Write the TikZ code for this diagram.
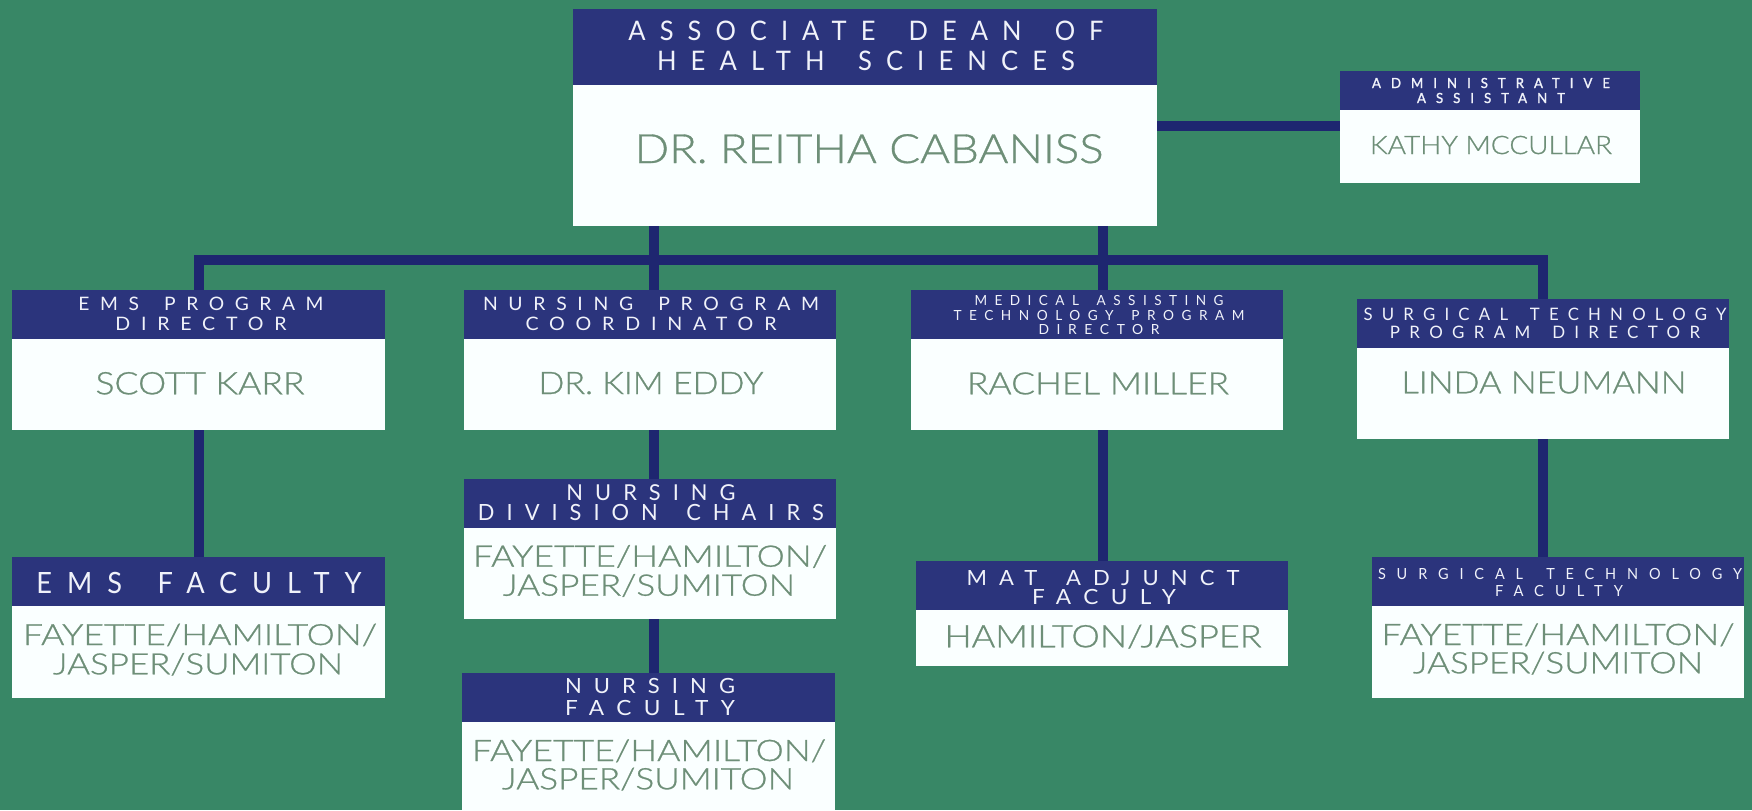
\documentclass[tikz,border=0pt]{standalone}
\usepackage{fontspec}
\usepackage{graphicx}
\setmainfont{Lato}
\newfontfamily\hdrfont[LetterSpace=55]{Lato}
\newfontfamily\hdrwide[LetterSpace=75]{Lato}
\newfontfamily\hdrbold[LetterSpace=75,FakeBold=1.5]{Lato}
\IfFontExistsTF{Lato Light}{\newfontfamily\namefont[FakeBold=0.8]{Lato Light}}{\newfontfamily\namefont{Lato}}
\definecolor{bg}{RGB}{56,135,102}
\definecolor{hdr}{RGB}{43,52,124}
\definecolor{lineblue}{RGB}{30,38,112}
\definecolor{bodyw}{RGB}{250,255,255}
\definecolor{namec}{RGB}{110,143,120}
\definecolor{hdrtext}{RGB}{240,242,250}
\newlength\pxu \setlength\pxu{0.5pt}
\newcommand\fitl[3]{\resizebox{#1\pxu}{#2\pxu}{\raisebox{0pt}[\fontcharht\font`H][0pt]{#3}}}
\newcommand\hdl[3]{{\hdrfont\spaceskip=1.3em\relax\fitl{#1}{#2}{#3}}}
\newcommand\hdw[3]{{\hdrwide\spaceskip=1.6em\relax\fitl{#1}{#2}{#3}}}
\newcommand\hdb[3]{{\hdrbold\spaceskip=1.6em\relax\fitl{#1}{#2}{#3}}}
\newcommand\nml[3]{{\namefont\fitl{#1}{#2}{#3}}}
\newcommand\orgbox[6]{%
  \node[hdrbox, anchor=north west, minimum width={(#3-#2)*0.5pt}, minimum height={(#5-#4)*0.5pt}] (#1H) at (#2,#4) {};
  \node[bodybox, anchor=north west, minimum width={(#3-#2)*0.5pt}, minimum height={(#6-#5)*0.5pt}] (#1) at (#2,#5) {};}
\tikzset{
  hdrbox/.style={rectangle, fill=hdr, draw=none, inner sep=0pt, outer sep=0pt},
  bodybox/.style={rectangle, fill=bodyw, draw=none, inner sep=0pt, outer sep=0pt},
  conn/.style={draw=lineblue, line width=5pt},
  htxt/.style={text=hdrtext, inner sep=0pt, anchor=base},
  ntxt/.style={text=namec, inner sep=0pt, anchor=base},
}
\begin{document}
\begin{tikzpicture}[x=0.5pt,y=-0.5pt]
\useasboundingbox (0,0) rectangle (1752,810);
\fill[bg] (0,0) rectangle (1752,810);
% boxes
\orgbox{dean}{573}{1157}{9}{85}{226}
\orgbox{admin}{1340}{1640}{71}{110}{183}
\orgbox{ems}{12}{385}{290}{339}{430}
\orgbox{nur}{464}{836}{290}{339}{430}
\orgbox{mat}{911}{1283}{290}{339}{430}
\orgbox{sur}{1357}{1729}{299}{348}{439}
\orgbox{emsf}{12}{385}{557}{606}{698}
\orgbox{ndc}{464}{836}{479}{528}{619}
\orgbox{nf}{462}{835}{673}{722}{810}
\orgbox{matf}{916}{1288}{561}{610}{666}
\orgbox{surf}{1372}{1744}{557}{606}{698}
% connectors
\coordinate (bus) at (0,260);
\coordinate (admy) at (0,126);
\draw[conn] (dean.east |- admy) -- (admin.west |- admy);
\draw[conn] (emsH.north) -- (emsH.north |- bus) -- (surH.north |- bus) -- (surH.north);
\draw[conn] (dean.south -| 654,0) -- (nurH.north -| 654,0);
\draw[conn] (dean.south -| 1103,0) -- (matH.north -| 1103,0);
\draw[conn] (ems.south) -- (emsfH.north);
\draw[conn] (nur.south -| 654,0) -- (ndcH.north -| 654,0);
\draw[conn] (ndc.south -| 654,0) -- (nfH.north -| 654,0);
\draw[conn] (mat.south -| 1103,0) -- (matfH.north -| 1103,0);
\draw[conn] (sur.south) -- (surfH.north -| sur.south);
% texts
\node[htxt] (deanT1) at (866,40) {\hdl{475}{19.3}{ASSOCIATE DEAN OF}};
\node[htxt] (deanT2) at (866,70) {\hdl{418}{19.3}{HEALTH SCIENCES}};
\node[ntxt] (deanN) at (869,163) {\nml{469}{28.5}{DR. REITHA CABANISS}};
\node[htxt] (admT1) at (1491,88) {\hdb{238}{10}{ADMINISTRATIVE}};
\node[htxt] (admT2) at (1491,103) {\hdb{148}{10}{ASSISTANT}};
\node[ntxt] (admN) at (1491,154) {\nml{242}{18}{KATHY MCCULLAR}};
\node[htxt] (emsT1) at (201,310.7) {\hdl{245}{13.3}{EMS PROGRAM}};
\node[htxt] (emsT2) at (201,330.7) {\hdl{171}{13.3}{DIRECTOR}};
\node[ntxt] (emsN) at (200,394.3) {\nml{209}{22}{SCOTT KARR}};
\node[htxt] (nurT1) at (651,310.7) {\hdl{336}{13.3}{NURSING PROGRAM}};
\node[htxt] (nurT2) at (651,330.7) {\hdl{251}{13.3}{COORDINATOR}};
\node[ntxt] (nurN) at (651,394) {\nml{225}{22}{DR. KIM EDDY}};
\node[htxt] (matT1) at (1099,305.7) {\hdl{249}{10}{MEDICAL ASSISTING}};
\node[htxt] (matT2) at (1099,320) {\hdl{291}{10}{TECHNOLOGY PROGRAM}};
\node[htxt] (matT3) at (1099,334) {\hdl{121}{10}{DIRECTOR}};
\node[ntxt] (matN) at (1098,394.3) {\nml{262}{21.7}{RACHEL MILLER}};
\node[htxt] (surT1) at (1545,320.7) {\hdl{363}{12.3}{SURGICAL TECHNOLOGY}};
\node[htxt] (surT2) at (1545,338.3) {\hdl{310}{12.3}{PROGRAM DIRECTOR}};
\node[ntxt] (surN) at (1544,393.3) {\nml{285}{21.7}{LINDA NEUMANN}};
\node[htxt] (emsfT) at (199,593) {\hdl{325}{21}{EMS FACULTY}};
\node[ntxt] (emsfN1) at (200,645) {\nml{354}{20.7}{FAYETTE/HAMILTON/}};
\node[ntxt] (emsfN2) at (198,674.3) {\nml{290}{20.7}{JASPER/SUMITON}};
\node[htxt] (ndcT1) at (651,500.7) {\hdl{169}{15.7}{NURSING}};
\node[htxt] (ndcT2) at (651,520) {\hdl{346}{16}{DIVISION CHAIRS}};
\node[ntxt] (ndcN1) at (650,566.7) {\nml{354}{21}{FAYETTE/HAMILTON/}};
\node[ntxt] (ndcN2) at (649,595.7) {\nml{292}{21}{JASPER/SUMITON}};
\node[htxt] (nfT1) at (650,693) {\hdl{170}{15}{NURSING}};
\node[htxt] (nfT2) at (650,715.7) {\hdl{170}{15}{FACULTY}};
\node[ntxt] (nfN1) at (649,761) {\nml{354}{21}{FAYETTE/HAMILTON/}};
\node[ntxt] (nfN2) at (648,789.3) {\nml{292}{21}{JASPER/SUMITON}};
\node[htxt] (matfT1) at (1103,585) {\hdl{273}{15}{MAT ADJUNCT}};
\node[htxt] (matfT2) at (1104,604) {\hdl{144}{15}{FACULY}};
\node[ntxt] (matfN) at (1103,647.3) {\nml{317}{22}{HAMILTON/JASPER}};
\node[htxt] (surfT1) at (1560,579.3) {\hdw{364}{11}{SURGICAL TECHNOLOGY}};
\node[htxt] (surfT2) at (1559,596.7) {\hdw{128}{11}{FACULTY}};
\node[ntxt] (surfN1) at (1558,645) {\nml{353}{21}{FAYETTE/HAMILTON/}};
\node[ntxt] (surfN2) at (1558,673.3) {\nml{290}{21}{JASPER/SUMITON}};
\end{tikzpicture}
\end{document}
